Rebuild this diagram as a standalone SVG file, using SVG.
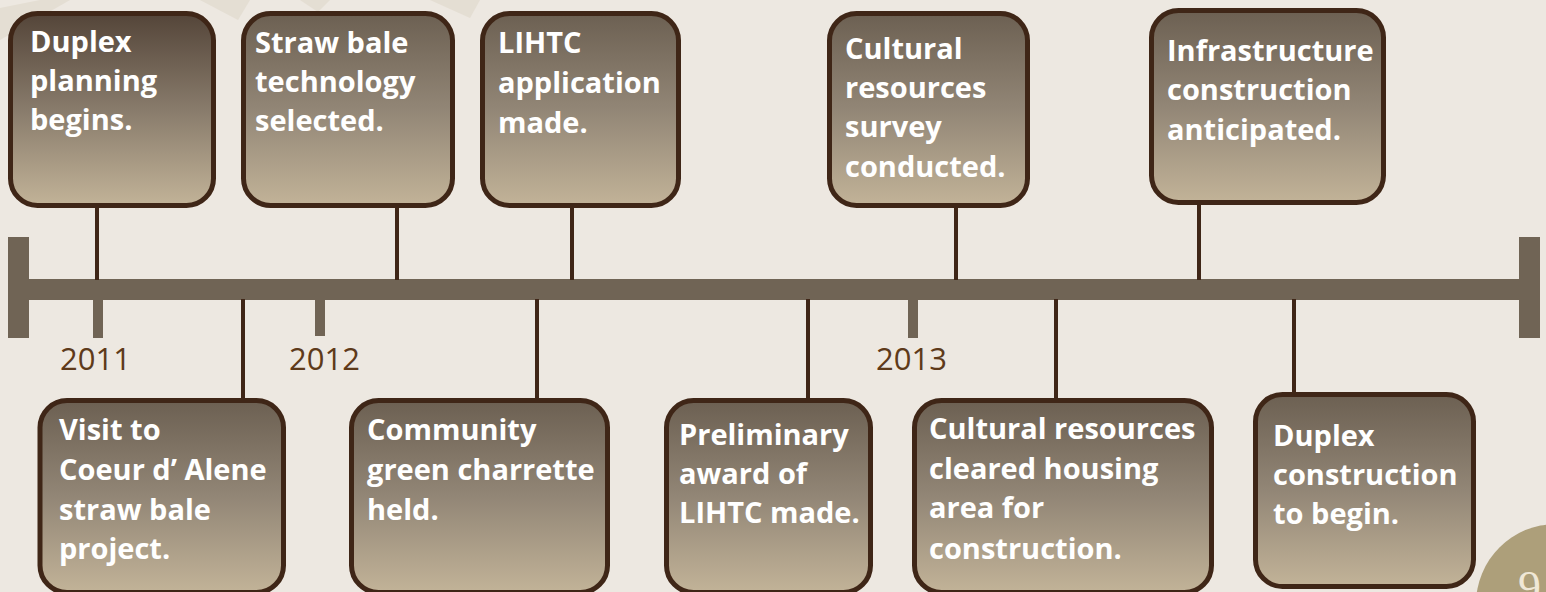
<svg xmlns="http://www.w3.org/2000/svg" width="1546" height="592" viewBox="0 0 1546 592">
  <defs>
    <linearGradient id="boxGrad" x1="0" y1="0" x2="0" y2="1">
      <stop offset="0" stop-color="#6c6052"/>
      <stop offset="0.5" stop-color="#928676"/>
      <stop offset="1" stop-color="#c2b398"/>
    </linearGradient>
    <linearGradient id="boxGradDark" x1="0" y1="0" x2="0" y2="1">
      <stop offset="0" stop-color="#544539"/>
      <stop offset="0.5" stop-color="#887b6b"/>
      <stop offset="1" stop-color="#c2b398"/>
    </linearGradient>
    <style>
      .box { fill: url(#boxGrad); stroke: #3f2617; stroke-width: 5; }
      .boxd { fill: url(#boxGradDark); stroke: #3f2617; stroke-width: 5; }
      .lbl { font-family: "Open Sans", "Noto Sans", "Liberation Sans", sans-serif; font-weight: bold; font-size: 29px; fill: #ffffff; }
      .year { font-family: "Open Sans", "Noto Sans", "Liberation Sans", sans-serif; font-size: 31px; fill: #5e3a1a; }
      .conn { stroke: #3f2617; stroke-width: 4; fill: none; }
      .bar { fill: #706455; }
    </style>
  </defs>

  <rect x="0" y="0" width="1546" height="592" fill="#ede8e1"/>
  <g id="background-deco" fill="#e3dcd0" opacity="0.8">
    <polygon points="0,8 40,0 70,0 0,40"/>
    <polygon points="200,0 250,0 238,20"/>
    <polygon points="300,0 330,0 318,12"/>
    <polygon points="430,0 480,0 470,18"/>
  </g>
  <g id="deco-circle">
    <circle cx="1556" cy="604" r="80" fill="#ad9f7a"/>
    <text x="1518" y="603" font-family="Liberation Serif, serif" font-size="46" fill="#efe7d6">9</text>
  </g>

  <g id="timeline">
    <rect class="bar" x="8" y="279" width="1532" height="21"/>
    <rect class="bar" x="8" y="237" width="21" height="101"/>
    <rect class="bar" x="1519" y="237" width="21" height="101"/>
    <rect class="bar" x="93" y="300" width="10" height="38"/>
    <rect class="bar" x="315" y="300" width="10" height="36"/>
    <rect class="bar" x="908" y="300" width="10" height="38"/>
    <text class="year" x="60" y="370">2011</text>
    <text class="year" x="289" y="370">2012</text>
    <text class="year" x="876" y="370">2013</text>
  </g>

  <g id="connectors">
    <line class="conn" x1="97" y1="206" x2="97" y2="280"/>
    <line class="conn" x1="397" y1="206" x2="397" y2="280"/>
    <line class="conn" x1="572" y1="206" x2="572" y2="280"/>
    <line class="conn" x1="956" y1="206" x2="956" y2="280"/>
    <line class="conn" x1="1199" y1="203" x2="1199" y2="280"/>
    <line class="conn" x1="243" y1="299" x2="243" y2="400"/>
    <line class="conn" x1="537" y1="299" x2="537" y2="400"/>
    <line class="conn" x1="808" y1="299" x2="808" y2="400"/>
    <line class="conn" x1="1056" y1="299" x2="1056" y2="400"/>
    <line class="conn" x1="1294" y1="299" x2="1294" y2="394"/>
  </g>

  <g id="n1">
    <rect class="boxd" x="10.5" y="13.5" width="203" height="192" rx="27"/>
    <text class="lbl"><tspan x="30" y="52">Duplex</tspan><tspan x="30" y="91">planning</tspan><tspan x="30" y="130">begins.</tspan></text>
  </g>
  <g id="n2">
    <rect class="box" x="243.5" y="13.5" width="209" height="192" rx="27"/>
    <text class="lbl"><tspan x="255" y="53">Straw bale</tspan><tspan x="255" y="92">technology</tspan><tspan x="255" y="131">selected.</tspan></text>
  </g>
  <g id="n3">
    <rect class="box" x="482.5" y="13.5" width="196" height="192" rx="27"/>
    <text class="lbl"><tspan x="498" y="53">LIHTC</tspan><tspan x="498" y="93">application</tspan><tspan x="498" y="133">made.</tspan></text>
  </g>
  <g id="n4">
    <rect class="box" x="829.5" y="13.5" width="198" height="192" rx="27"/>
    <text class="lbl"><tspan x="845" y="59">Cultural</tspan><tspan x="845" y="98">resources</tspan><tspan x="845" y="137">survey</tspan><tspan x="845" y="177">conducted.</tspan></text>
  </g>
  <g id="n5">
    <rect class="box" x="1151.5" y="10.5" width="232" height="192" rx="27"/>
    <text class="lbl"><tspan x="1167" y="61">Infrastructure</tspan><tspan x="1167" y="100">construction</tspan><tspan x="1167" y="140">anticipated.</tspan></text>
  </g>
  <g id="n6">
    <rect class="box" x="40" y="400.5" width="243.5" height="192" rx="27"/>
    <text class="lbl"><tspan x="59" y="440">Visit to</tspan><tspan x="59" y="480">Coeur d’ Alene</tspan><tspan x="59" y="520">straw bale</tspan><tspan x="59" y="559">project.</tspan></text>
  </g>
  <g id="n7">
    <rect class="box" x="351.5" y="400.5" width="256" height="192" rx="27"/>
    <text class="lbl"><tspan x="367" y="440">Community</tspan><tspan x="367" y="480">green charrette</tspan><tspan x="367" y="520">held.</tspan></text>
  </g>
  <g id="n8">
    <rect class="box" x="666.5" y="400.5" width="204" height="192" rx="27"/>
    <text class="lbl"><tspan x="679" y="445">Preliminary</tspan><tspan x="679" y="484">award of</tspan><tspan x="679" y="523">LIHTC made.</tspan></text>
  </g>
  <g id="n9">
    <rect class="box" x="914.5" y="400.5" width="297" height="192" rx="27"/>
    <text class="lbl"><tspan x="929" y="439">Cultural resources</tspan><tspan x="929" y="479">cleared housing</tspan><tspan x="929" y="518">area for</tspan><tspan x="929" y="559">construction.</tspan></text>
  </g>
  <g id="n10">
    <rect class="box" x="1255.5" y="394.5" width="218" height="192" rx="27"/>
    <text class="lbl"><tspan x="1273" y="446">Duplex</tspan><tspan x="1273" y="485">construction</tspan><tspan x="1273" y="524">to begin.</tspan></text>
  </g>
</svg>
